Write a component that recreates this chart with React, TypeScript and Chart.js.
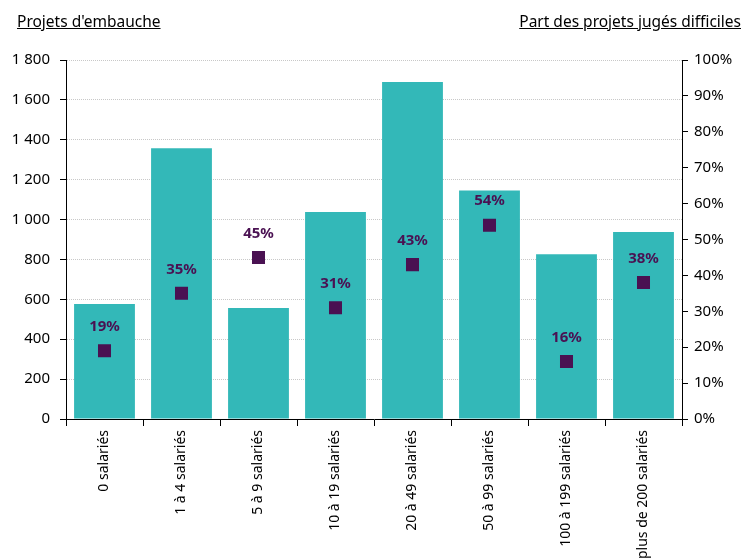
import React, { useEffect, useRef } from "react";
import { Chart, registerables } from "chart.js";

Chart.register(...registerables);

const categories = [
  "0 salariés",
  "1 à 4 salariés",
  "5 à 9 salariés",
  "10 à 19 salariés",
  "20 à 49 salariés",
  "50 à 99 salariés",
  "100 à 199 salariés",
  "plus de 200 salariés",
];
const projets = [577, 1358, 557, 1038, 1690, 1146, 826, 938];
const partDifficiles = [19, 35, 45, 31, 43, 54, 16, 38];
const leftTitle = "Projets d'embauche";
const rightTitle = "Part des projets jugés difficiles";

const FONT = "'Noto Sans', 'Open Sans', sans-serif";
const BAR = "#33b8b8";
const PURPLE = "#4a1152";

const fmt = (v: number) => {
  const s = String(Math.round(v));
  return s.length > 3 ? s.slice(0, s.length - 3) + " " + s.slice(-3) : s;
};

const labelPlugin = {
  id: "pctLabels",
  afterDatasetsDraw(chart: any) {
    const meta = chart.getDatasetMeta(1);
    const ctx = chart.ctx;
    ctx.save();
    ctx.font = `bold 15px ${FONT}`;
    ctx.fillStyle = PURPLE;
    ctx.textAlign = "center";
    ctx.textBaseline = "middle";
    meta.data.forEach((pt: any, i: number) => {
      ctx.fillText(partDifficiles[i] + "%", pt.x, pt.y - 24);
    });
    ctx.restore();
  },
};

export default function App() {
  const ref = useRef<HTMLCanvasElement>(null);
  useEffect(() => {
    if (!ref.current) return;
    const chart = new Chart(ref.current, {
      type: "bar",
      data: {
        labels: categories,
        datasets: [
          {
            type: "bar",
            data: projets,
            backgroundColor: BAR,
            yAxisID: "y",
            barPercentage: 0.79,
            categoryPercentage: 1,
            order: 2,
          },
          {
            type: "line",
            data: partDifficiles,
            yAxisID: "y2",
            showLine: false,
            pointStyle: "rect",
            pointRadius: 9.2,
            pointHoverRadius: 9.2,
            pointBackgroundColor: PURPLE,
            pointBorderColor: PURPLE,
            pointBorderWidth: 0,
            order: 1,
          } as any,
        ],
      },
      options: {
        animation: false,
        responsive: false,
        maintainAspectRatio: false,
        layout: { padding: { top: 60, left: 0, right: 0, bottom: 0 } },
        plugins: { legend: { display: false }, tooltip: { enabled: false } },
        scales: {
          x: {
            offset: true,
            grid: {
              offset: true,
              drawOnChartArea: false,
              tickLength: 7,
              tickColor: "#000",
            },
            border: { color: "#000", width: 1 },
            ticks: {
              color: "#000",
              font: { family: FONT, size: 14 },
              minRotation: 90,
              maxRotation: 90,
              autoSkip: false,
              padding: 4,
            },
            afterFit(scale: any) {
              scale.height = 141;
            },
          },
          y: {
            position: "left",
            min: 0,
            max: 1800,
            ticks: {
              stepSize: 200,
              color: "#000",
              font: { family: FONT, size: 15 },
              padding: 10,
              callback: (v: any) => fmt(Number(v)),
            },
            grid: {
              color: "#c8c8c8",
              tickColor: "#000",
              tickLength: 6,
              lineWidth: 1,
            },
            border: { color: "#000", dash: [1, 1] },
            afterFit(scale: any) {
              scale.width = 66;
            },
          },
          y2: {
            position: "right",
            min: 0,
            max: 100,
            ticks: {
              stepSize: 10,
              color: "#000",
              font: { family: FONT, size: 15 },
              padding: 6,
              callback: (v: any) => v + "%",
            },
            grid: {
              drawOnChartArea: false,
              tickColor: "#000",
              tickLength: 6,
            },
            border: { color: "#000" },
            afterFit(scale: any) {
              scale.width = 62;
            },
          },
        },
      },
      plugins: [labelPlugin],
    });
    return () => chart.destroy();
  }, []);

  return (
    <div
      style={{
        position: "fixed",
        left: 0,
        top: 0,
        width: 744,
        height: 560,
        overflow: "hidden",
        background: "#fff",
        fontFamily: FONT,
      }}
    >
      <div
        style={{
          position: "absolute",
          left: 17,
          top: 11,
          fontSize: 15.5,
          textDecoration: "underline",
          color: "#000",
          lineHeight: "20px",
        }}
      >
        {leftTitle}
      </div>
      <div
        style={{
          position: "absolute",
          right: 3,
          top: 11,
          fontSize: 15.5,
          textDecoration: "underline",
          color: "#000",
          lineHeight: "20px",
        }}
      >
        {rightTitle}
      </div>
      <canvas ref={ref} width={744} height={560} style={{ display: "block", width: 744, height: 560 }} />
    </div>
  );
}
